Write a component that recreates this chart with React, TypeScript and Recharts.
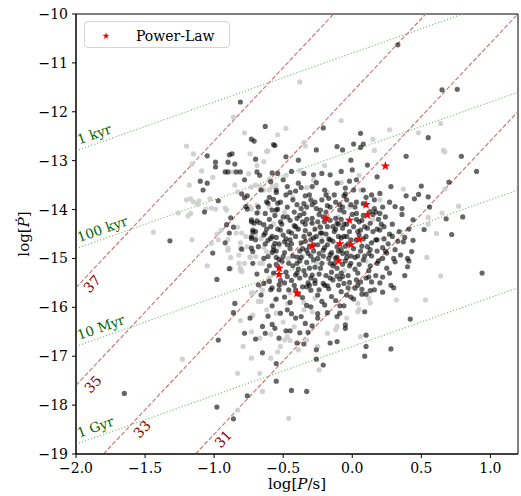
import {
  ScatterChart,
  Scatter,
  XAxis,
  YAxis,
  ReferenceLine,
  ReferenceDot,
  ReferenceArea,
} from "recharts";

// log[P/s], log[Pdot] pairs
const darkPts: number[][] = [
  [-0.81,-11.80],[-1.05,-12.90],[-0.89,-12.88],[-0.87,-12.86],[-0.99,-13.03],[-0.99,-13.13],[-0.90,-13.03],[-0.85,-13.07],
  [-0.92,-13.23],[-0.90,-13.23],[-1.10,-13.42],[-1.08,-13.60],[-1.05,-13.46],[-0.97,-13.82],[-0.78,-13.39],[-0.73,-12.56],
  [-0.71,-12.60],[-1.07,-14.05],[-0.80,-13.68],[-0.78,-13.76],[-0.76,-13.99],[-0.70,-12.97],[-0.69,-13.23],[-1.32,-14.64],
  [-0.88,-14.17],[-0.86,-14.36],[-0.89,-14.48],[-0.92,-14.68],[-0.73,-14.25],[-0.69,-14.07],[-0.73,-14.56],[-0.72,-14.46],
  [-1.01,-14.89],[-0.89,-15.21],[-0.98,-15.43],[-0.85,-15.92],[-0.86,-16.11],[-0.74,-16.22],[-0.78,-16.53],[-0.97,-16.67],
  [-0.70,-16.65],[-1.65,-17.76],[-0.76,-17.81],[-0.98,-18.04],[-0.86,-18.28],[-0.72,-15.10],[-0.69,-15.32],[-0.68,-15.54],
  [-0.72,-14.86],
  [0.33,-10.63],[0.65,-11.55],[0.76,-11.54],[-0.63,-12.30],[-0.57,-12.67],[-0.21,-12.33],[0.06,-12.44],[-0.07,-12.78],
  [0.08,-12.66],[0.06,-12.73],[0.55,-12.53],
  [0.39,-12.91],[0.79,-12.91],[0.90,-13.22],[0.70,-13.44],[0.50,-13.52],[0.48,-13.69],[0.39,-13.72],[0.45,-13.78],
  [0.55,-13.74],[0.56,-13.95],[0.36,-13.98],[0.80,-14.15],[0.68,-14.19],[0.44,-14.21],[0.52,-14.41],[0.41,-14.40],
  [0.38,-14.57],[0.72,-14.51],[0.44,-14.63],[0.37,-14.66],[0.43,-14.86],[0.40,-15.00],[0.41,-15.05],[0.40,-15.17],
  [0.38,-15.35],[0.94,-15.30],[0.35,-14.93],
  [0.28,-15.55],[0.30,-15.60],[0.22,-15.69],[0.16,-15.64],[0.13,-15.66],[0.10,-15.73],[0.07,-15.63],[0.07,-15.73],
  [0.14,-15.48],[0.17,-15.35],[0.22,-15.38],[0.03,-15.44],[-0.02,-15.49],[0.02,-15.61],[-0.01,-15.79],[0.01,-15.83],
  [0.09,-16.09],[-0.09,-15.97],[-0.06,-15.97],[-0.09,-16.12],[-0.05,-16.36],[-0.05,-16.43],[0.42,-16.24],[0.10,-16.57],
  [0.10,-16.80],[0.28,-16.85],[0.09,-17.00],[-0.07,-15.37],[0.27,-15.30],
  [-0.55,-17.51],[-0.44,-17.70],[-0.33,-17.72],
  [-0.65,-16.93],[-0.55,-17.15],[-0.26,-17.06],[-0.21,-17.18],[-0.16,-16.73],[-0.11,-16.70],[-0.58,-15.97],[-0.47,-16.05],
  [-0.44,-16.13],[-0.52,-16.12],[-0.61,-16.18],[-0.58,-16.35],[-0.65,-16.39],[-0.56,-16.43],[-0.45,-16.48],[-0.38,-16.52],
  [-0.41,-16.22],[-0.37,-16.19],[-0.33,-15.96],[-0.30,-15.99],[-0.25,-16.13],[-0.25,-16.22],[-0.29,-16.38],[-0.34,-16.33],
  [-0.20,-15.95],[-0.18,-16.11],[-0.11,-16.19],[-0.15,-15.78],[-0.12,-15.86],[-0.24,-15.64],[-0.33,-15.58],[-0.41,-15.64],
  [-0.39,-15.73],[-0.46,-15.64],[-0.53,-15.54],[-0.53,-15.64],[-0.49,-15.79],[-0.55,-15.83],[-0.59,-15.64],[-0.66,-15.75],
  [-0.53,-16.63],[-0.48,-16.48],[-0.40,-16.73],[-0.35,-16.75],[-0.32,-16.51],[-0.26,-16.87],[-0.63,-16.53],[-0.11,-15.36],
  [-0.06,-15.51],[-0.04,-15.75],[-0.18,-15.56],[-0.27,-15.51],[-0.21,-15.51],[-0.14,-15.44],[-0.41,-15.34],[-0.34,-15.34],
  [-0.29,-15.34],[-0.47,-15.37],[-0.60,-15.47],[-0.64,-15.51],
  [-0.84,-13.23],[-0.81,-13.23],[-0.76,-13.72],[-0.77,-13.94],[-0.67,-13.30],[-0.62,-13.84],[-0.61,-13.87],[-0.57,-13.79],
  [-0.58,-14.01],[-0.63,-14.08],[-0.54,-13.99],[-0.54,-13.87],[-0.55,-13.65],[-0.59,-13.43],[-0.54,-13.26],[-0.56,-12.69],
  [-0.73,-14.21],[-0.69,-14.23],[-0.71,-14.28],[-0.67,-14.27],[-0.64,-14.31],[-0.72,-14.42],[-0.70,-14.45],[-0.63,-14.48],
  [-0.59,-14.59],[-0.55,-14.57],[-0.56,-14.69],[-0.73,-14.59],[-0.70,-14.62],[-0.68,-14.76],[-0.57,-14.83],[-0.55,-14.98],
  [-0.61,-14.96],[-0.64,-15.00],[-0.73,-14.79],[-0.91,-14.31],[-0.80,-14.81],
  [-0.48,-12.92],[-0.39,-12.99],[-0.26,-12.78],[-0.11,-12.71],[0.01,-12.66],[-0.50,-13.39],[-0.44,-13.22],[-0.35,-13.26],
  [-0.28,-13.29],[-0.22,-13.26],[-0.16,-13.29],[-0.08,-13.22],[-0.01,-12.99],[0.00,-13.19],[0.03,-13.39],[0.11,-13.09],
  [0.18,-13.33],[0.08,-13.60],[-0.55,-13.60],[-0.47,-13.53],[-0.39,-13.46],[-0.29,-13.53],[-0.20,-13.60],[-0.11,-13.46],
  [-0.05,-13.56],[0.01,-13.60],[0.20,-13.67],[0.28,-13.53],[0.31,-13.94],[0.23,-14.35],[0.29,-14.55],[0.18,-14.62],
  [0.25,-14.89],[0.31,-15.07],[0.18,-15.10],[0.08,-15.03],[-0.01,-15.10],[-0.16,-15.10],[-0.28,-15.03],[-0.40,-15.10],
  [-0.50,-14.96],[-0.57,-14.76],[-0.45,-14.62],[-0.35,-14.55],[-0.23,-14.48],[-0.16,-14.62],[-0.06,-14.55],[0.06,-14.42],
  [0.13,-14.28],[0.03,-14.08],[-0.09,-14.01],[-0.23,-14.01],[-0.35,-14.08],[-0.47,-14.15],[-0.55,-14.01],[-0.43,-13.80],
  [-0.30,-13.80],[-0.17,-13.77],[-0.04,-13.80],[0.13,-14.04],[-0.52,-14.42],[-0.41,-14.35],[-0.29,-14.28],[-0.11,-14.28],
  [0.20,-14.08],[-0.33,-14.83],[-0.21,-14.83],[0.11,-14.76],[-0.04,-14.89],[0.03,-14.62],[-0.11,-14.76],[-0.30,-14.62],
  [-0.49,-14.66],
  [-0.62,-14.40],[-0.58,-14.88],[-0.55,-15.12],[-0.52,-14.25],[-0.50,-14.52],[-0.48,-15.28],[-0.47,-13.95],[-0.45,-14.80],
  [-0.44,-15.45],[-0.42,-14.33],[-0.41,-13.62],[-0.40,-14.97],[-0.39,-15.22],[-0.38,-14.12],[-0.37,-14.68],[-0.36,-15.58],
  [-0.35,-13.88],[-0.34,-14.43],[-0.33,-15.08],[-0.32,-14.90],[-0.31,-13.70],[-0.30,-15.40],[-0.29,-14.18],[-0.28,-14.58],
  [-0.27,-15.18],[-0.26,-13.98],[-0.25,-14.72],[-0.24,-15.32],[-0.23,-14.36],[-0.22,-13.80],[-0.21,-14.95],[-0.20,-15.55],
  [-0.19,-14.50],[-0.18,-13.92],[-0.17,-15.00],[-0.16,-14.22],[-0.15,-15.28],[-0.14,-14.65],[-0.13,-13.70],[-0.12,-14.40],
  [-0.11,-15.20],[-0.10,-14.85],[-0.09,-13.90],[-0.08,-14.58],[-0.07,-15.12],[-0.06,-14.30],[-0.05,-13.68],[-0.04,-14.98],
  [-0.03,-15.35],[-0.02,-14.45],[0.00,-14.10],[0.01,-14.80],[0.02,-15.22],[0.03,-13.85],[0.05,-14.52],[0.06,-15.48],
  [0.07,-14.22],[0.09,-14.95],[0.10,-13.75],[0.11,-14.38],[0.13,-15.15],[0.14,-14.68],[0.16,-13.98],[0.18,-14.85],
  [0.20,-14.42],[0.22,-15.00],[0.24,-14.15],[0.26,-14.70],[0.29,-14.30],[0.31,-14.82],
  [-0.60,-14.20],[-0.57,-15.30],[-0.53,-14.70],[-0.51,-15.05],[-0.46,-14.45],[-0.43,-15.15],[-0.38,-14.85],[-0.36,-14.25],
  [-0.31,-14.75],[-0.27,-14.40],[-0.24,-14.10],[-0.22,-15.10],[-0.18,-14.72],[-0.14,-14.35],[-0.12,-15.00],[-0.08,-14.20],
  [-0.05,-14.75],[-0.01,-14.62],[0.04,-14.95],[0.08,-14.60],[0.12,-14.90],[0.15,-14.45],[0.19,-14.20],[0.23,-14.60],
  [-0.45,-13.65],[-0.33,-13.95],[-0.20,-14.25],[-0.07,-13.95],[0.05,-14.25],[0.17,-14.05],[-0.63,-14.70],[-0.60,-15.15],
  [-0.52,-15.45],[-0.42,-15.55],[-0.30,-15.65],[-0.16,-15.40],[-0.08,-15.30],[0.04,-15.30],[0.12,-15.25],[0.25,-15.20],
  [0.34,-14.45],[0.36,-14.10],[0.27,-13.85],[0.14,-13.70],[-0.02,-13.42],[-0.26,-13.45],[-0.37,-13.55],[-0.58,-13.25],
  [-0.66,-13.60],[-0.68,-13.95],
  [-0.64,-14.52],[-0.61,-14.63],[-0.59,-14.35],[-0.56,-14.12],[-0.54,-14.40],[-0.53,-15.02],[-0.51,-14.30],[-0.49,-14.88],
  [-0.48,-14.60],[-0.46,-15.10],[-0.45,-14.22],[-0.44,-14.70],[-0.43,-14.95],[-0.42,-14.05],[-0.41,-14.55],[-0.40,-15.30],
  [-0.39,-14.40],[-0.38,-15.05],[-0.37,-13.98],[-0.36,-14.80],[-0.35,-15.25],[-0.34,-14.65],[-0.33,-14.20],[-0.32,-15.50],
  [-0.31,-14.50],[-0.30,-14.95],[-0.29,-13.90],[-0.28,-14.85],[-0.27,-15.45],[-0.26,-14.55],[-0.25,-14.25],[-0.24,-14.90],
  [-0.23,-15.20],[-0.22,-14.48],[-0.21,-14.15],[-0.20,-14.78],[-0.19,-15.35],[-0.18,-14.35],[-0.17,-14.60],[-0.16,-13.95],
  [-0.15,-14.88],[-0.14,-15.15],[-0.13,-14.45],[-0.12,-14.18],[-0.11,-14.98],[-0.10,-14.55],[-0.09,-15.42],[-0.08,-14.82],
  [-0.07,-14.38],[-0.06,-14.05],[-0.05,-15.05],[-0.04,-14.30],[-0.03,-14.70],[-0.02,-15.15],[-0.01,-13.90],[0.01,-14.35],
  [0.02,-14.98],[0.04,-14.45],[0.05,-15.12],[0.07,-14.75],[0.08,-14.12],[0.10,-14.55],[0.12,-15.38],[0.13,-14.82],
  [0.15,-14.10],[0.17,-14.62],[0.19,-15.05],[0.21,-14.30],[0.24,-14.85],[0.27,-14.50],[0.30,-15.00],[0.33,-14.65],
  [-0.62,-15.25],[-0.58,-14.55],[-0.55,-14.85],[-0.50,-14.15],[-0.47,-14.72],[-0.44,-14.48],[-0.40,-14.18],[-0.37,-14.98],
  [-0.34,-14.30],[-0.31,-15.20],[-0.28,-14.72],[-0.25,-15.00],[-0.22,-14.65],[-0.19,-14.05],[-0.16,-14.92],[-0.13,-15.10],
  [-0.10,-14.30],[-0.07,-14.90],[-0.04,-14.55],[-0.01,-14.95],[0.03,-14.20],[0.06,-14.85],[0.09,-14.35],[0.14,-14.95],
  [0.18,-14.40],[0.22,-14.78],
  [-0.60,-13.75],[-0.52,-13.85],[-0.48,-13.70],[-0.40,-13.90],[-0.34,-13.72],[-0.27,-13.85],[-0.19,-13.70],[-0.12,-13.85],
  [-0.06,-13.72],[0.02,-13.95],[0.08,-13.88],[0.16,-13.80],[0.22,-13.95],
  [-0.58,-15.60],[-0.49,-15.50],[-0.38,-15.40],[-0.31,-15.55],[-0.25,-15.75],[-0.17,-15.62],[-0.10,-15.55],[-0.03,-15.60],
  [0.04,-15.55],[0.10,-15.40],[0.20,-15.50],[-0.45,-15.90],[-0.36,-15.80],[-0.22,-15.88],[-0.08,-15.68],
];

const greyPts: number[][] = [
  [-1.20,-12.70],[-1.15,-12.86],[-1.16,-13.07],[-1.09,-13.21],[-1.18,-13.50],[-1.17,-13.78],[-1.20,-13.80],[-1.15,-13.84],
  [-1.12,-13.89],[-1.11,-13.82],[-1.06,-13.99],[-1.03,-13.78],[-0.99,-13.99],[-0.92,-13.97],[-0.86,-12.11],[-0.78,-12.43],
  [-0.74,-12.86],[-0.75,-13.27],[-0.85,-13.50],[-0.83,-13.64],[-0.73,-13.54],[-1.44,-14.46],[-1.26,-14.07],[-1.16,-14.62],
  [-0.95,-14.42],[-0.97,-14.62],[-0.90,-14.79],[-0.81,-14.79],
  [-1.05,-15.15],[-0.88,-14.98],[-0.82,-15.10],[-0.80,-15.27],[-0.81,-15.24],[-0.74,-14.96],[-0.70,-14.96],[-0.67,-15.10],
  [-0.73,-15.71],[-0.68,-15.88],[-0.81,-16.27],[-0.73,-16.50],[-0.79,-16.80],[-0.73,-17.04],[-1.23,-17.06],[-0.83,-17.35],
  [-0.83,-18.10],[-0.72,-15.70],
  [-0.38,-11.39],[-0.08,-12.18],[-0.48,-12.34],[-0.54,-12.47],[-0.62,-12.81],[-0.35,-12.63],[-0.34,-12.70],[0.15,-12.56],
  [0.27,-12.37],[0.16,-12.79],[0.48,-12.43],[0.64,-12.24],[0.66,-12.79],[0.67,-12.82],
  [0.37,-13.58],[0.67,-13.58],[0.77,-13.93],[0.65,-14.07],[0.55,-14.16],[0.55,-14.30],[0.61,-14.49],[0.54,-14.98],
  [0.64,-15.36],[0.53,-15.85],
  [0.32,-15.85],[0.04,-15.92],[0.13,-15.91],[0.05,-16.04],[0.06,-16.60],[0.12,-15.81],
  [-0.65,-17.72],[-0.46,-18.27],
  [-0.45,-16.68],[-0.49,-16.67],[-0.47,-16.60],[-0.52,-16.80],[-0.54,-16.91],[-0.59,-17.04],[-0.39,-16.87],[-0.33,-16.67],
  [-0.67,-16.63],[-0.59,-16.55],[-0.72,-16.16],[-0.66,-15.88],[-0.55,-16.12],[-0.47,-15.92],[-0.29,-16.09],[-0.27,-15.81],
  [-0.25,-16.80],[-0.18,-16.53],[-0.12,-16.46],[-0.24,-17.28],[-0.11,-16.39],[-0.04,-16.22],[0.04,-16.09],[-0.67,-17.35],
  [-1.01,-13.34],[-0.87,-13.23],[-0.69,-13.10],[-0.64,-13.02],[-0.61,-12.80],[-0.70,-13.50],[-0.67,-13.53],[-0.64,-13.60],
  [-0.60,-13.60],[-0.58,-13.53],[-0.60,-13.37],[-1.17,-14.08],[-1.19,-14.13],[-1.02,-13.97],[-0.91,-14.01],[-0.98,-14.50],
  [-0.90,-14.61],[-0.90,-14.83],[-1.02,-14.69],[-0.83,-14.36],[-0.84,-14.48],[-0.80,-14.48],[-0.77,-14.55],[-0.81,-14.68],
  [-0.76,-14.76],[-0.74,-14.98],[-0.82,-14.93],[-0.78,-15.10],[-0.81,-15.20],[-0.88,-15.21],[-0.69,-13.91],[-0.74,-13.94],
  [-0.68,-14.05],[-0.73,-13.99],[-0.70,-14.54],[-0.64,-14.77],[-0.62,-14.86],[-0.65,-15.10],
  [-0.66,-14.60],[-0.60,-13.95],[-0.57,-14.30],[-0.53,-14.75],[-0.49,-14.05],[-0.46,-15.00],[-0.43,-13.75],[-0.40,-14.40],
  [-0.36,-14.95],[-0.33,-13.55],[-0.30,-14.25],[-0.26,-15.10],[-0.22,-14.60],[-0.18,-13.65],[-0.14,-14.95],[-0.10,-14.15],
  [-0.06,-15.25],[-0.02,-13.95],[0.02,-14.65],[0.06,-13.60],[0.10,-15.05],[0.15,-14.20],[0.20,-13.80],[-0.52,-15.55],
  [-0.45,-15.70],[-0.35,-15.90],[-0.60,-15.40],[-0.65,-15.65],[-0.55,-13.50],[-0.48,-13.30],[-0.38,-13.20],[-0.28,-13.40],
  [-0.20,-13.10],[-0.08,-13.45],[0.05,-13.30],[-0.56,-15.85],[-0.50,-16.30],[-0.42,-16.40],[-0.35,-16.05],[-0.62,-16.05],
];

const powerLawPts: number[][] = [
  [0.24,-13.11],[0.10,-13.90],[0.11,-14.11],[-0.19,-14.18],[-0.02,-14.22],[0.05,-14.61],[-0.29,-14.75],
  [-0.09,-14.70],[-0.01,-14.72],[-0.10,-15.05],[-0.53,-15.20],[-0.53,-15.33],[-0.40,-15.71],
];

const xTicks = [-2.0, -1.5, -1.0, -0.5, 0.0, 0.5, 1.0];
const yTicks = [-19, -18, -17, -16, -15, -14, -13, -12, -11, -10];

// characteristic age lines (years) and spin-down luminosity lines (log erg/s)
const ageYears = [1e3, 1e5, 1e7, 1e9];
const ageLabels = ["1 kyr", "100 kyr", "10 Myr", "1 Gyr"];
const edotLevels = [31, 33, 35, 37];
const edotLabelX = [-0.935, -1.522, -1.877, -1.884];
const edotLabelY = [-18.69, -18.49, -17.57, -15.52];

const X0 = -2, X1 = 1.2, Y0 = -19, Y1 = -10;
const FONT = "'DejaVu Serif', serif";
const YEAR_S = 3.156e7;
const LOG_EDOT0 = Math.log10(4 * Math.PI * Math.PI * 1e45);
const AGE_LABEL_X = -1.965;

const ageIntercept = (yr: number) => -Math.log10(2 * yr * YEAR_S);
const edotIntercept = (e: number) => e - LOG_EDOT0;

function clipLine(m: number, b: number) {
  const xa = Math.max(X0, (Y0 - b) / m);
  const xb = Math.min(X1, (Y1 - b) / m);
  return [
    { x: xa, y: b + m * xa },
    { x: xb, y: b + m * xb },
  ];
}

const toXY = (pts: number[][]) => pts.map(([x, y]) => ({ x, y }));

function starPath(cx: number, cy: number, R: number) {
  const r = R * 0.4;
  let d = "";
  for (let i = 0; i < 10; i++) {
    const rad = i % 2 === 0 ? R : r;
    const a = -Math.PI / 2 + (i * Math.PI) / 5;
    d += (i === 0 ? "M" : "L") + (cx + rad * Math.cos(a)).toFixed(2) + "," + (cy + rad * Math.sin(a)).toFixed(2);
  }
  return d + "Z";
}

const fmtX = (v: number) => (v < 0 ? "\u2212" + Math.abs(v).toFixed(1) : v.toFixed(1));
const fmtY = (v: number) => (v < 0 ? "\u2212" + Math.abs(v) : String(v));

const AGE_ANGLE = -19.5;
const EDOT_ANGLE = -46.7;

export default function App() {
  return (
    <div style={{ position: "absolute", left: 0, top: 0, width: 521, height: 496, fontFamily: FONT }}>
      <ScatterChart width={521} height={496} margin={{ top: 14, right: 3, bottom: 0, left: 0 }}>
        <XAxis
          type="number"
          dataKey="x"
          domain={[X0, X1]}
          ticks={xTicks}
          allowDataOverflow
          height={42}
          stroke="#000"
          tickSize={4}
          tickMargin={5}
          tickFormatter={fmtX}
          tick={{ fontSize: 14, fill: "#000", fontFamily: FONT }}
          label={(props: any) => {
            const vb = props.viewBox;
            return (
              <text x={vb.x + vb.width / 2} y={489} textAnchor="middle" fontSize={15} fontFamily={FONT} fill="#000">
                log[<tspan fontStyle="italic">P</tspan>/s]
              </text>
            );
          }}
        />
        <YAxis
          type="number"
          dataKey="y"
          domain={[Y0, Y1]}
          ticks={yTicks}
          allowDataOverflow
          width={76}
          stroke="#000"
          tickSize={4}
          tickMargin={4}
          tickFormatter={fmtY}
          tick={{ fontSize: 14, fill: "#000", fontFamily: FONT }}
          label={(props: any) => {
            const vb = props.viewBox;
            const cy = vb.y + vb.height / 2;
            return (
              <text x={29} y={cy} transform={`rotate(-90 29 ${cy})`} textAnchor="middle" fontSize={15} fontFamily={FONT} fill="#000">
                log[<tspan fontStyle="italic">Ṗ</tspan>]
              </text>
            );
          }}
        />

        {ageYears.map((yr) => (
          <ReferenceLine
            key={"age" + yr}
            segment={clipLine(1, ageIntercept(yr))}
            stroke="#7fbf7f"
            strokeWidth={1.2}
            strokeDasharray="1.2 2"
          />
        ))}
        {edotLevels.map((e) => (
          <ReferenceLine
            key={"edot" + e}
            segment={clipLine(3, edotIntercept(e))}
            stroke="#cd7a7a"
            strokeWidth={1.2}
            strokeDasharray="4.5 2"
          />
        ))}

        <Scatter
          data={toXY(greyPts)}
          isAnimationActive={false}
          shape={(p: any) => <circle cx={p.cx} cy={p.cy} r={2.6} fill="#cdcdcd" fillOpacity={0.9} />}
        />
        <Scatter
          data={toXY(darkPts)}
          isAnimationActive={false}
          shape={(p: any) => <circle cx={p.cx} cy={p.cy} r={2.6} fill="#000" fillOpacity={0.6} />}
        />
        <Scatter
          data={toXY(powerLawPts)}
          isAnimationActive={false}
          shape={(p: any) => <path d={starPath(p.cx, p.cy, 5)} fill="#ff0000" />}
        />

        {ageYears.map((yr, i) => (
          <ReferenceDot
            key={"agel" + yr}
            x={AGE_LABEL_X}
            y={ageIntercept(yr) + AGE_LABEL_X}
            shape={(p: any) => (
              <text
                x={p.cx}
                y={p.cy}
                dy={-5}
                transform={`rotate(${AGE_ANGLE} ${p.cx} ${p.cy})`}
                fontSize={13.5}
                fontFamily={FONT}
                fill="#006400"
              >
                {ageLabels[i]}
              </text>
            )}
          />
        ))}
        {edotLevels.map((e, i) => (
          <ReferenceDot
            key={"edotl" + e}
            x={edotLabelX[i]}
            y={edotLabelY[i]}
            shape={(p: any) => (
              <text
                x={p.cx}
                y={p.cy}
                transform={`rotate(${EDOT_ANGLE} ${p.cx} ${p.cy})`}
                textAnchor="middle"
                dominantBaseline="central"
                fontSize={14}
                fontFamily={FONT}
                fill="#8b0000"
              >
                {e}
              </text>
            )}
          />
        ))}

        <ReferenceArea x1={X0} x2={X1} y1={Y0} y2={Y1} fill="none" stroke="#000" strokeWidth={1} ifOverflow="visible" />
      </ScatterChart>

      <div
        style={{
          position: "absolute",
          left: 84,
          top: 21,
          width: 146,
          height: 27,
          border: "1px solid #d4d4d4",
          borderRadius: 4,
          background: "rgba(255,255,255,0.85)",
          boxSizing: "border-box",
        }}
      >
        <svg width={146} height={27} style={{ position: "absolute", left: -1, top: -1 }}>
          <path d={starPath(22, 15, 3.6)} fill="#ff0000" />
          <text x={52} y={19.5} fontSize={14} fontFamily={FONT} fill="#000">
            Power-Law
          </text>
        </svg>
      </div>
    </div>
  );
}
